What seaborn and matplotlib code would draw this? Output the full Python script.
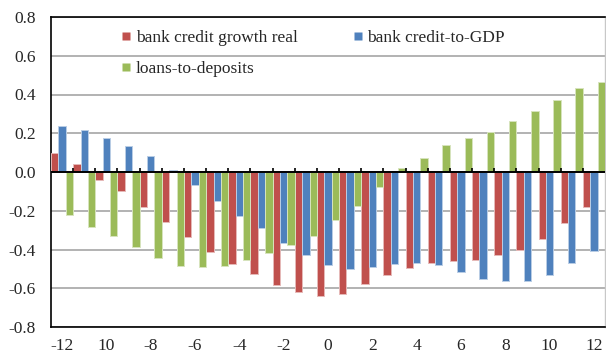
import numpy as np
import pandas as pd
import matplotlib
matplotlib.use("Agg")
import matplotlib.pyplot as plt
import seaborn as sns
from matplotlib.lines import Line2D

# ---- data ----
periods = list(range(-12, 13))
credit_growth_real = [0.10, 0.04, -0.04, -0.10, -0.18, -0.26, -0.335, -0.413, -0.473, -0.525,
                      -0.585, -0.618, -0.639, -0.630, -0.578, -0.534, -0.497, -0.468, -0.461,
                      -0.456, -0.430, -0.400, -0.345, -0.261, -0.18]
credit_to_gdp = [0.24, 0.215, 0.173, 0.136, 0.085, 0.01, -0.067, -0.152, -0.226, -0.29,
                 -0.366, -0.427, -0.478, -0.503, -0.49, -0.477, -0.47, -0.482, -0.515,
                 -0.551, -0.565, -0.56, -0.53, -0.47, -0.41]
loans_to_deposits = [-0.22, -0.283, -0.33, -0.387, -0.444, -0.485, -0.49, -0.483, -0.456, -0.418,
                     -0.378, -0.328, -0.25, -0.174, -0.076, 0.02, 0.074, 0.14, 0.174,
                     0.207, 0.263, 0.314, 0.373, 0.435, 0.466]
series_names = ["bank credit growth real", "bank credit-to-GDP", "loans-to-deposits"]
xtick_labels = ["-12", "10", "-8", "-6", "-4", "-2", "0", "2", "4", "6", "8", "10", "12"]
yticks = [-0.8, -0.6, -0.4, -0.2, 0.0, 0.2, 0.4, 0.6, 0.8]

colors = ["#C0504D", "#4F81BD", "#9BBB59"]
edge_colors = ["#E6B9B8", "#B9CDE5", "#D7E4BD"]

df = pd.DataFrame({
    "period": periods * 3,
    "value": credit_growth_real + credit_to_gdp + loans_to_deposits,
    "series": sum([[n] * len(periods) for n in series_names], []),
})

sns.set_style("white")
plt.rcParams["font.family"] = ["Liberation Serif", "DejaVu Serif"]
FS = 12.5

fig = plt.figure(figsize=(6.06, 3.6), dpi=100)
ax = fig.add_axes([51 / 606, 33 / 360, 554 / 606, 310 / 360])

sns.barplot(data=df, x="period", y="value", hue="series", order=periods,
            hue_order=series_names, palette=colors, width=1.0, gap=0,
            saturation=1, ax=ax, legend=False, zorder=3)

# light bar edges
for container, ec in zip(ax.containers, edge_colors):
    for p in container:
        p.set_edgecolor(ec)
        p.set_linewidth(0.7)

ax.set_xlim(-0.5, len(periods) - 0.5)
ax.set_ylim(-0.8, 0.8)
ax.set_yticks(yticks)
ax.set_yticklabels([f"{v:.1f}" for v in yticks], fontsize=FS)
label_pos = list(range(0, len(periods), 2))
ax.set_xticks(label_pos)
ax.set_xticklabels(xtick_labels, fontsize=FS)
ax.tick_params(axis="y", length=0, pad=11)
ax.tick_params(axis="x", length=0, pad=8)
ax.set_xlabel("")
ax.set_ylabel("")

ax.yaxis.grid(True, color="#A6A6A6", linewidth=1.2, zorder=0)
ax.set_axisbelow(True)

for s in ["left", "bottom", "top"]:
    ax.spines[s].set_color("black")
    ax.spines[s].set_linewidth(1.2)
ax.spines["right"].set_color("#C8C8C8")
ax.spines["right"].set_linewidth(1.0)

# zero axis line with tick marks between categories
ax.axhline(0, color="black", linewidth=1.4, zorder=4)
bounds = np.arange(len(periods) - 1) + 0.5
ax.vlines(bounds, 0, 0.022, color="black", linewidth=1.2, zorder=4)

handles = [Line2D([], [], marker="s", linestyle="none", markersize=6,
                  markerfacecolor=colors[i], markeredgecolor="none") for i in (0, 2, 1)]
labels = [series_names[i] for i in (0, 2, 1)]
leg = fig.legend(handles, labels, ncol=2, loc="upper left",
                 bbox_to_anchor=(122 / 606, 1 - 30 / 360), frameon=False,
                 fontsize=FS, handlelength=0.5, handleheight=0.5,
                 handletextpad=0.3, columnspacing=3.2, labelspacing=0.84,
                 borderpad=0, borderaxespad=0)

fig.savefig("out.png", dpi=100)
